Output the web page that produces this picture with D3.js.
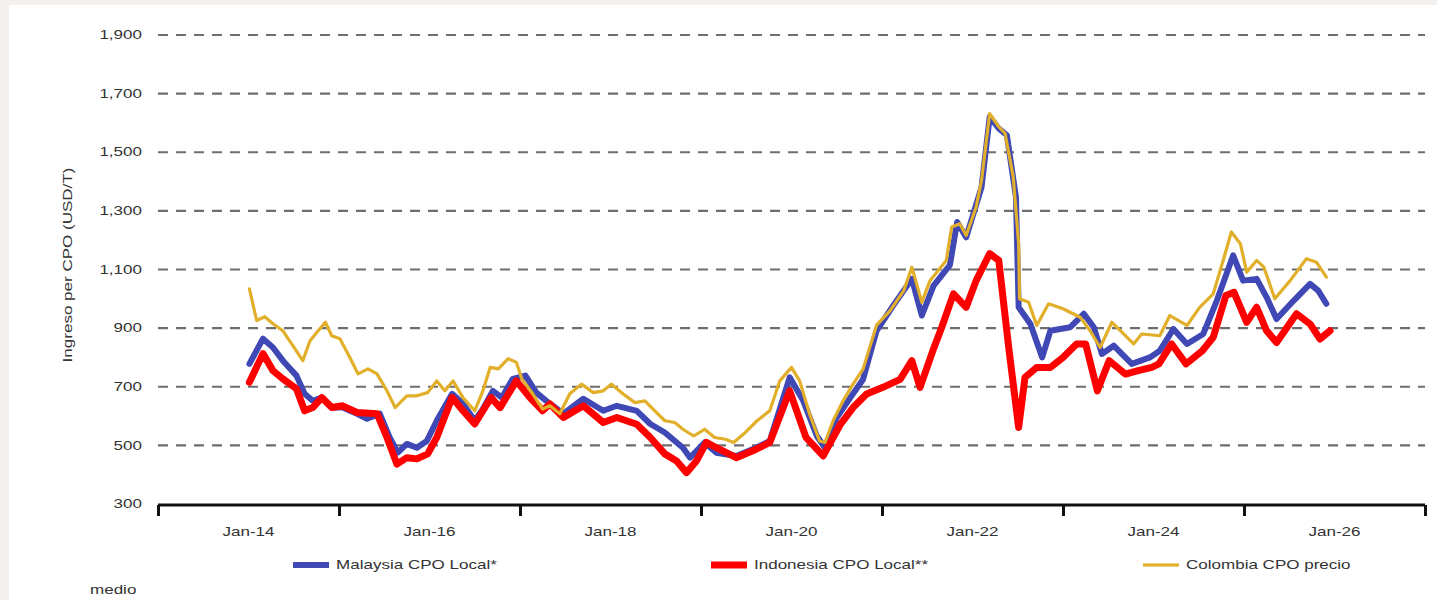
<!DOCTYPE html>
<html>
<head>
<meta charset="utf-8">
<script src="https://cdn.jsdelivr.net/npm/d3@7"></script>
<style>
  html, body { margin: 0; padding: 0; background: #f3f0ed; }
  svg { display: block; }
  text { font-family: "Liberation Sans", Arial, sans-serif; font-size: 12px; fill: #333333; }
</style>
</head>
<body>
<div id="chart"></div>
<script>
// time in decimal years, values in USD/T
const malaysiaT = [2014.01, 2014.16, 2014.27, 2014.38, 2014.53, 2014.62, 2014.71, 2014.81, 2014.92, 2015.04, 2015.20, 2015.31, 2015.45, 2015.56, 2015.65, 2015.75, 2015.86, 2015.97, 2016.08, 2016.25, 2016.37, 2016.50, 2016.59, 2016.70, 2016.80, 2016.92, 2017.06, 2017.18, 2017.29, 2017.48, 2017.70, 2017.92, 2018.07, 2018.29, 2018.44, 2018.60, 2018.80, 2018.88, 2019.04, 2019.17, 2019.39, 2019.61, 2019.76, 2019.98, 2020.13, 2020.28, 2020.37, 2020.50, 2020.65, 2020.79, 2020.94, 2021.12, 2021.33, 2021.44, 2021.57, 2021.75, 2021.83, 2021.93, 2022.10, 2022.19, 2022.29, 2022.38, 2022.48, 2022.51, 2022.64, 2022.77, 2022.86, 2023.08, 2023.23, 2023.34, 2023.43, 2023.56, 2023.76, 2023.96, 2024.07, 2024.22, 2024.37, 2024.55, 2024.70, 2024.88, 2024.99, 2025.14, 2025.25, 2025.36, 2025.55, 2025.73, 2025.82, 2025.91]
const malaysiaV = [778, 864, 834, 789, 738, 676, 652, 663, 629, 629, 608, 591, 608, 527, 475, 505, 492, 515, 584, 676, 642, 584, 624, 686, 663, 727, 738, 680, 652, 608, 659, 618, 635, 618, 573, 544, 492, 458, 510, 475, 464, 492, 515, 732, 652, 532, 492, 595, 663, 725, 891, 975, 1068, 943, 1045, 1115, 1262, 1210, 1381, 1621, 1581, 1558, 1347, 971, 914, 800, 891, 903, 949, 903, 812, 840, 778, 800, 823, 897, 846, 880, 994, 1148, 1062, 1068, 1005, 931, 994, 1051, 1028, 983]

const indonesiaT = [2014.01, 2014.16, 2014.27, 2014.38, 2014.53, 2014.62, 2014.71, 2014.81, 2014.92, 2015.04, 2015.20, 2015.42, 2015.53, 2015.64, 2015.75, 2015.86, 2015.98, 2016.08, 2016.25, 2016.37, 2016.50, 2016.59, 2016.68, 2016.78, 2016.96, 2017.11, 2017.25, 2017.33, 2017.48, 2017.70, 2017.92, 2018.07, 2018.29, 2018.44, 2018.60, 2018.73, 2018.84, 2018.95, 2019.06, 2019.17, 2019.39, 2019.61, 2019.76, 2019.98, 2020.16, 2020.35, 2020.54, 2020.68, 2020.83, 2021.01, 2021.20, 2021.33, 2021.42, 2021.57, 2021.66, 2021.79, 2021.93, 2022.04, 2022.19, 2022.29, 2022.40, 2022.51, 2022.58, 2022.71, 2022.86, 2023.00, 2023.15, 2023.25, 2023.38, 2023.51, 2023.69, 2023.83, 2023.98, 2024.06, 2024.20, 2024.36, 2024.54, 2024.66, 2024.80, 2024.89, 2025.03, 2025.14, 2025.25, 2025.36, 2025.58, 2025.73, 2025.84, 2025.95]
const indonesiaV = [715, 813, 755, 727, 693, 618, 629, 663, 629, 635, 612, 608, 527, 436, 458, 454, 471, 527, 663, 618, 573, 618, 663, 629, 720, 663, 618, 641, 595, 635, 578, 595, 572, 527, 471, 447, 407, 447, 510, 492, 458, 487, 510, 686, 527, 464, 572, 629, 675, 698, 725, 789, 698, 830, 903, 1017, 971, 1062, 1154, 1131, 834, 561, 732, 766, 766, 800, 846, 846, 686, 789, 743, 755, 766, 778, 846, 778, 823, 869, 1011, 1022, 920, 971, 891, 851, 949, 914, 863, 891]

const colombiaT = [2014.01, 2014.09, 2014.18, 2014.27, 2014.38, 2014.49, 2014.60, 2014.68, 2014.77, 2014.85, 2014.92, 2015.01, 2015.12, 2015.21, 2015.32, 2015.42, 2015.53, 2015.62, 2015.75, 2015.86, 2015.98, 2016.08, 2016.17, 2016.26, 2016.37, 2016.50, 2016.59, 2016.67, 2016.76, 2016.87, 2016.96, 2017.02, 2017.14, 2017.25, 2017.33, 2017.44, 2017.55, 2017.68, 2017.81, 2017.92, 2018.01, 2018.14, 2018.27, 2018.38, 2018.49, 2018.60, 2018.71, 2018.80, 2018.92, 2019.04, 2019.15, 2019.27, 2019.36, 2019.49, 2019.62, 2019.76, 2019.87, 2020.00, 2020.09, 2020.20, 2020.31, 2020.37, 2020.46, 2020.57, 2020.68, 2020.79, 2020.86, 2020.94, 2021.09, 2021.24, 2021.33, 2021.44, 2021.53, 2021.71, 2021.77, 2021.86, 2021.93, 2022.04, 2022.10, 2022.19, 2022.29, 2022.36, 2022.45, 2022.51, 2022.52, 2022.62, 2022.71, 2022.84, 2023.00, 2023.19, 2023.30, 2023.41, 2023.54, 2023.67, 2023.78, 2023.87, 2024.07, 2024.18, 2024.37, 2024.51, 2024.66, 2024.77, 2024.86, 2024.96, 2025.03, 2025.14, 2025.22, 2025.34, 2025.51, 2025.69, 2025.80, 2025.91]
const colombiaV = [1034, 926, 939, 915, 891, 840, 789, 857, 891, 920, 874, 864, 800, 744, 761, 744, 686, 629, 669, 669, 680, 720, 686, 720, 663, 618, 686, 766, 761, 796, 783, 727, 676, 624, 635, 608, 676, 709, 680, 686, 709, 675, 646, 652, 618, 584, 578, 555, 532, 555, 527, 521, 510, 544, 584, 618, 720, 766, 720, 607, 515, 510, 584, 652, 709, 760, 830, 910, 960, 1028, 1108, 988, 1062, 1131, 1245, 1256, 1216, 1313, 1404, 1632, 1587, 1564, 1416, 1188, 1000, 988, 909, 983, 966, 937, 891, 834, 920, 880, 846, 880, 874, 943, 909, 971, 1017, 1131, 1228, 1188, 1091, 1131, 1108, 1000, 1062, 1137, 1125, 1074]

const yTicks = [300, 500, 700, 900, 1100, 1300, 1500, 1700, 1900]
const xTickYears = [2013, 2015, 2017, 2019, 2021, 2023, 2025, 2027]
const xLabels = ['Jan-14', 'Jan-16', 'Jan-18', 'Jan-20', 'Jan-22', 'Jan-24', 'Jan-26']
const xLabelYears = [2014, 2016, 2018, 2020, 2022, 2024, 2026]

const series = [
  { name: 'Malaysia CPO Local*', t: malaysiaT, v: malaysiaV, color: '#3f48b4', width: 6, lx: 293 },
  { name: 'Indonesia CPO Local**', t: indonesiaT, v: indonesiaV, color: '#ff0000', width: 7, lx: 711 },
  { name: 'Colombia CPO precio', t: colombiaT, v: colombiaV, color: '#e2af2a', width: 3.2, lx: 1143 }
]

const W = 1437
const H = 600
const stretch = 1.42

let svg = d3.select('#chart').append('svg')
    .attr('width', W)
    .attr('height', H)

// white panel inside grey frame
svg.append('rect')
    .attr('x', 9).attr('y', 5)
    .attr('width', W - 9).attr('height', H - 5)
    .attr('fill', '#ffffff')

let xScale = d3.scaleLinear().domain([2013, 2027]).range([158, 1425])
let yScale = d3.scaleLinear().domain([300, 1900]).range([504, 35])

// dashed gridlines
svg.append('g')
  .selectAll('line')
  .data(yTicks.filter(d => d > 300))
  .join('line')
    .attr('x1', xScale(2013))
    .attr('x2', xScale(2027))
    .attr('y1', d => yScale(d))
    .attr('y2', d => yScale(d))
    .attr('stroke', '#6e6e6e')
    .attr('stroke-width', 2.2)
    .attr('stroke-dasharray', '10,8')

// y labels
svg.append('g')
  .selectAll('text')
  .data(yTicks)
  .join('text')
    .attr('transform', d => `translate(142,${yScale(d)}) scale(${stretch},1)`)
    .attr('text-anchor', 'end')
    .attr('dy', '0.35em')
    .text(d => d3.format(',')(d))

// y title
svg.append('text')
    .attr('transform', `translate(68,265) rotate(-90) scale(${stretch},1)`)
    .attr('text-anchor', 'middle')
    .attr('dy', '0.35em')
    .text('Ingreso per CPO (USD/T)')

// lines
let line = d3.line()
    .x(d => xScale(d[0]))
    .y(d => yScale(d[1]))
    .curve(d3.curveLinear)

series.forEach(s => {
  svg.append('path')
      .datum(d3.zip(s.t, s.v))
      .attr('fill', 'none')
      .attr('stroke', s.color)
      .attr('stroke-width', s.width)
      .attr('stroke-linejoin', 'round')
      .attr('stroke-linecap', 'round')
      .attr('d', line)
})

// x axis with ticks between labels
let axisY = yScale(300) + 1
let xAxis = d3.axisBottom(xScale)
    .tickValues(xTickYears)
    .tickSize(11)
    .tickFormat('')
let gx = svg.append('g')
    .attr('transform', `translate(0,${axisY})`)
    .call(xAxis)
gx.select('.domain').remove()
gx.append('line')
    .attr('x1', xScale(2013)).attr('x2', xScale(2027))
    .attr('stroke', '#111').attr('stroke-width', 3)
gx.selectAll('.tick line').attr('stroke', '#111').attr('stroke-width', 3)

svg.append('g')
  .selectAll('text')
  .data(xLabels)
  .join('text')
    .attr('transform', (d, i) => `translate(${xScale(xLabelYears[i])},532) scale(${stretch},1)`)
    .attr('text-anchor', 'middle')
    .attr('dy', '0.35em')
    .text(d => d)

// legend
let legend = svg.append('g')
series.forEach(s => {
  legend.append('rect')
      .attr('x', s.lx)
      .attr('y', 565 - s.width / 2)
      .attr('width', 36)
      .attr('height', s.width)
      .attr('fill', s.color)
  legend.append('text')
      .attr('transform', `translate(${s.lx + 43},565) scale(${stretch},1)`)
      .attr('dy', '0.35em')
      .text(s.name)
})

svg.append('text')
    .attr('transform', `translate(90,590) scale(${stretch},1)`)
    .attr('dy', '0.35em')
    .text('medio')
</script>
</body>
</html>
